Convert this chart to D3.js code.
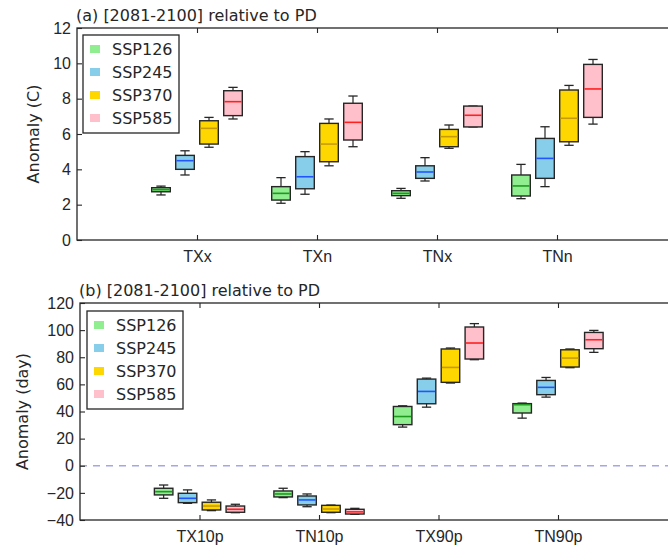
<!DOCTYPE html>
<html>
<head>
<meta charset="utf-8">
<script src="https://cdn.jsdelivr.net/npm/d3@7"></script>
<style>
  body { margin: 0; background: #fff; }
  svg { font-family: "DejaVu Sans", sans-serif; }
</style>
</head>
<body>
<div id="chart"></div>
<script>
// scenarios and colours
var scenarios = ['SSP126', 'SSP245', 'SSP370', 'SSP585'];
var boxColors = ['#90ee90', '#87ceeb', '#ffd700', '#ffc0cb'];
var medianColors = ['#1f9a1f', '#2255ff', '#c89b00', '#ff2020'];

// panel (a): [whisker low, q1, median, q3, whisker high]
var catsA = ['TXx', 'TXn', 'TNx', 'TNn'];
var ssp126A = [[2.55, 2.73, 2.85, 2.96, 3.05], [2.08, 2.26, 2.64, 3.02, 3.53], [2.36, 2.51, 2.64, 2.79, 2.92], [2.34, 2.49, 3.06, 3.68, 4.28]];
var ssp245A = [[3.68, 4.0, 4.49, 4.79, 5.05], [2.59, 2.9, 3.58, 4.72, 5.0], [3.34, 3.49, 3.85, 4.2, 4.66], [3.02, 3.49, 4.62, 5.75, 6.41]];
var ssp370A = [[5.25, 5.43, 6.32, 6.75, 6.94], [4.2, 4.43, 5.43, 6.6, 6.85], [5.19, 5.28, 5.85, 6.26, 6.51], [5.36, 5.56, 6.89, 8.49, 8.75]];
var ssp585A = [[6.85, 7.04, 7.83, 8.45, 8.64], [5.28, 5.66, 6.66, 7.74, 8.15], [6.4, 6.4, 7.06, 7.58, 7.58], [6.56, 6.94, 8.55, 9.94, 10.22]];
var ticksA = [0, 2, 4, 6, 8, 10, 12];

// panel (b)
var catsB = ['TX10p', 'TN10p', 'TX90p', 'TN90p'];
var ssp126B = [[-24.0, -21.5, -19.1, -16.6, -14.2], [-23.5, -23.0, -20.8, -18.6, -16.6], [28.5, 30.3, 36.3, 43.7, 44.2], [35.1, 38.9, 45.0, 45.8, 46.2]];
var ssp245B = [[-27.7, -27.2, -24.0, -20.3, -17.8], [-30.2, -28.9, -25.2, -22.3, -20.8], [43.2, 45.7, 54.8, 63.9, 64.6], [50.6, 52.4, 57.8, 62.9, 65.1]];
var ssp370B = [[-33.1, -32.6, -29.7, -26.9, -25.2], [-34.6, -34.3, -31.9, -29.2, -29.0], [61.0, 61.5, 72.5, 86.1, 86.8], [72.3, 72.8, 79.4, 85.5, 86.1]];
var ssp585B = [[-34.6, -34.3, -32.1, -29.7, -28.4], [-35.8, -35.6, -34.0, -32.1, -31.4], [78.2, 78.7, 90.5, 102.3, 104.8], [83.6, 86.3, 92.9, 98.3, 99.8]];
var ticksB = [-40, -20, 0, 20, 40, 60, 80, 100, 120];

var W = 668, H = 551;
var ink = '#262626';
var offsets = [-0.3, -0.1, 0.1, 0.3];
var boxW = 0.155;

var svg = d3.select('#chart').append('svg')
    .attr('width', W)
    .attr('height', H);

function panel(opts) {
    var x = d3.scaleLinear().domain([0, 5]).range([opts.left, opts.left + opts.width]);
    var y = d3.scaleLinear().domain(opts.ydom).range([opts.bottom, opts.top]);
    var g = svg.append('g');

    // zero line
    if (opts.zero) {
        g.append('line')
            .attr('x1', x(0)).attr('x2', x(5))
            .attr('y1', y(0)).attr('y2', y(0))
            .attr('stroke', '#a3a6e8')
            .attr('stroke-width', 1.3)
            .attr('stroke-dasharray', '7,6');
    }

    // boxes
    opts.series.forEach(function (data, si) {
        var sg = g.append('g');
        var items = sg.selectAll('g.box')
            .data(data)
            .enter().append('g').attr('class', 'box');
        var cx = function (d, i) { return x(i + 1 + offsets[si]); };
        var hw = (x(boxW) - x(0)) / 2;

        items.append('line')
            .attr('x1', cx).attr('x2', cx)
            .attr('y1', function (d) { return y(d[0]); })
            .attr('y2', function (d) { return y(d[4]); })
            .attr('stroke', ink).attr('stroke-width', 1.2);
        [0, 4].forEach(function (k) {
            items.append('line')
                .attr('x1', function (d, i) { return cx(d, i) - hw / 2; })
                .attr('x2', function (d, i) { return cx(d, i) + hw / 2; })
                .attr('y1', function (d) { return y(d[k]); })
                .attr('y2', function (d) { return y(d[k]); })
                .attr('stroke', ink).attr('stroke-width', 1.3);
        });
        items.append('rect')
            .attr('x', function (d, i) { return cx(d, i) - hw; })
            .attr('width', hw * 2)
            .attr('y', function (d) { return y(d[3]); })
            .attr('height', function (d) { return Math.max(1, y(d[1]) - y(d[3])); })
            .attr('fill', boxColors[si])
            .attr('stroke', ink).attr('stroke-width', 1.4);
        items.append('line')
            .attr('x1', function (d, i) { return cx(d, i) - hw + 0.7; })
            .attr('x2', function (d, i) { return cx(d, i) + hw - 0.7; })
            .attr('y1', function (d) { return y(d[2]); })
            .attr('y2', function (d) { return y(d[2]); })
            .attr('stroke', medianColors[si]).attr('stroke-width', 1.6);
    });

    // frame
    g.append('rect')
        .attr('x', opts.left).attr('y', opts.top)
        .attr('width', opts.width).attr('height', opts.bottom - opts.top)
        .attr('fill', 'none').attr('stroke', ink).attr('stroke-width', 1.3);

    // axes (ticks inside)
    var yAxis = d3.axisLeft(y).tickValues(opts.yticks).tickSize(-5).tickPadding(6)
        .tickFormat(function (d) { return d < 0 ? '\u2212' + Math.abs(d) : d; });
    var ya = g.append('g').attr('transform', 'translate(' + opts.left + ',0)').call(yAxis);
    var xAxis = d3.axisBottom(x).tickValues([1, 2, 3, 4]).tickSize(-5).tickPadding(11)
        .tickFormat(function (d) { return opts.cats[d - 1]; });
    var xa = g.append('g').attr('transform', 'translate(0,' + opts.bottom + ')').call(xAxis);
    var xTop = d3.axisTop(x).tickValues([1, 2, 3, 4]).tickSize(-5).tickFormat('');
    var xt = g.append('g').attr('transform', 'translate(0,' + opts.top + ')').call(xTop);
    [ya, xa, xt].forEach(function (a) {
        a.select('.domain').remove();
        a.selectAll('.tick line').attr('stroke', ink).attr('stroke-width', 1.1);
        a.selectAll('.tick text').attr('fill', ink).style('font-size', '16px');
    });

    // title and y label
    g.append('text')
        .attr('x', opts.left - 1).attr('y', opts.top - 7)
        .attr('fill', ink).style('font-size', '16px')
        .text(opts.title);
    g.append('text')
        .attr('transform', 'translate(' + opts.ylabX + ',' + ((opts.top + opts.bottom) / 2) + ') rotate(-90)')
        .attr('text-anchor', 'middle')
        .attr('dominant-baseline', 'central')
        .attr('fill', ink).style('font-size', '16px')
        .text(opts.ylabel);

    // legend
    var lg = g.append('g').attr('transform', 'translate(' + opts.legX + ',' + opts.legY + ')');
    lg.append('rect')
        .attr('width', 96).attr('height', 98)
        .attr('fill', '#fff').attr('stroke', ink).attr('stroke-width', 1.3);
    var rows = lg.selectAll('g.row').data(scenarios).enter().append('g')
        .attr('transform', function (d, i) { return 'translate(0,' + (14 + i * 23) + ')'; });
    rows.append('rect')
        .attr('x', 7).attr('y', -4).attr('width', 10).attr('height', 8)
        .attr('fill', function (d, i) { return boxColors[i]; });
    rows.append('text')
        .attr('x', 29).attr('y', 0)
        .attr('dominant-baseline', 'central')
        .attr('fill', ink).style('font-size', '16px')
        .text(function (d) { return d; });
}

panel({
    left: 77, width: 600, top: 28, bottom: 240,
    ydom: [0, 12], yticks: ticksA, cats: catsA,
    series: [ssp126A, ssp245A, ssp370A, ssp585A],
    title: '(a) [2081-2100] relative to PD',
    ylabel: 'Anomaly (C)', ylabX: 33,
    legX: 83, legY: 35
});

panel({
    left: 80, width: 597.5, top: 303, bottom: 520,
    ydom: [-40, 120], yticks: ticksB, cats: catsB,
    series: [ssp126B, ssp245B, ssp370B, ssp585B],
    title: '(b) [2081-2100] relative to PD',
    ylabel: 'Anomaly (day)', ylabX: 22, zero: true,
    legX: 87, legY: 311
});
</script>
</body>
</html>
